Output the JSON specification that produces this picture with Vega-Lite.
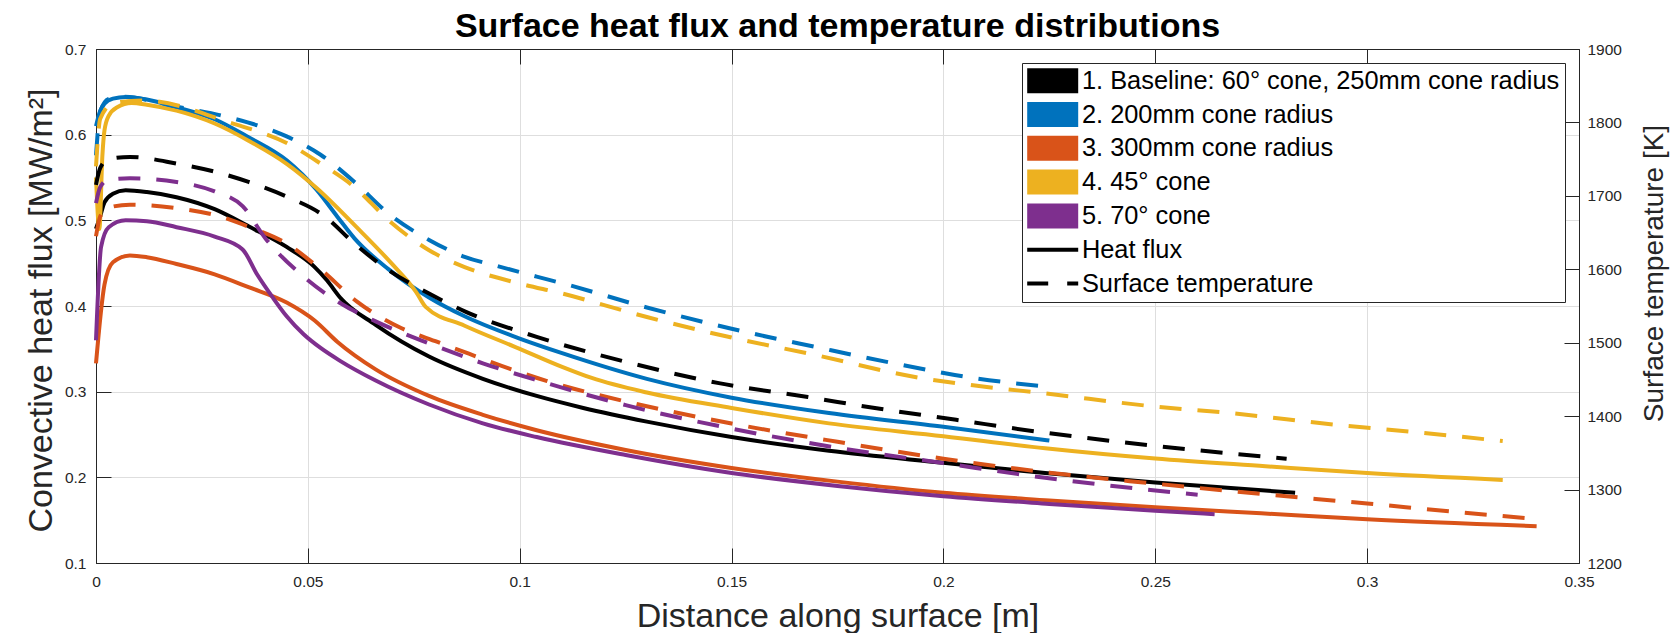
{
  "$schema": "https://vega.github.io/schema/vega-lite/v6.json",
  "width": 1483,
  "height": 514,
  "autosize": {"type": "none"},
  "padding": {"left": 96, "top": 49, "right": 98, "bottom": 70},
  "background": "white",
  "title": {
    "text": "Surface heat flux and temperature distributions",
    "font": "Liberation Sans", "fontSize": 34, "fontWeight": "bold", "color": "#000000",
    "anchor": "middle", "frame": "group", "baseline": "alphabetic", "offset": 14, "dy": 43
  },
  "config": {
    "view": {"stroke": "#262626", "strokeWidth": 1},
    "font": "Liberation Sans",
    "axis": {
      "labelFont": "Liberation Sans", "titleFont": "Liberation Sans",
      "labelColor": "#262626", "titleColor": "#262626",
      "domainColor": "#262626", "tickColor": "#262626",
      "titleFontWeight": "normal", "labelFontSize": 15.5,
      "tickSize": -15, "tickWidth": 1, "domainWidth": 1,
      "gridColor": "#dedede", "gridWidth": 1,
      "labelOverlap": false, "labelFlush": false
    }
  },
  "datasets": {
    "flux": [
      {"c": "1. Baseline: 60° cone, 250mm cone radius", "x": 0, "v": 0.49},
      {"c": "1. Baseline: 60° cone, 250mm cone radius", "x": 0.001, "v": 0.505},
      {"c": "1. Baseline: 60° cone, 250mm cone radius", "x": 0.002, "v": 0.521},
      {"c": "1. Baseline: 60° cone, 250mm cone radius", "x": 0.004, "v": 0.531},
      {"c": "1. Baseline: 60° cone, 250mm cone radius", "x": 0.007, "v": 0.535},
      {"c": "1. Baseline: 60° cone, 250mm cone radius", "x": 0.012, "v": 0.533},
      {"c": "1. Baseline: 60° cone, 250mm cone radius", "x": 0.019, "v": 0.527},
      {"c": "1. Baseline: 60° cone, 250mm cone radius", "x": 0.028, "v": 0.513},
      {"c": "1. Baseline: 60° cone, 250mm cone radius", "x": 0.036, "v": 0.493},
      {"c": "1. Baseline: 60° cone, 250mm cone radius", "x": 0.045, "v": 0.469},
      {"c": "1. Baseline: 60° cone, 250mm cone radius", "x": 0.0515, "v": 0.446},
      {"c": "1. Baseline: 60° cone, 250mm cone radius", "x": 0.0545, "v": 0.43},
      {"c": "1. Baseline: 60° cone, 250mm cone radius", "x": 0.0576, "v": 0.41},
      {"c": "1. Baseline: 60° cone, 250mm cone radius", "x": 0.066, "v": 0.378},
      {"c": "1. Baseline: 60° cone, 250mm cone radius", "x": 0.0786, "v": 0.341},
      {"c": "1. Baseline: 60° cone, 250mm cone radius", "x": 0.0913, "v": 0.315},
      {"c": "1. Baseline: 60° cone, 250mm cone radius", "x": 0.104, "v": 0.295},
      {"c": "1. Baseline: 60° cone, 250mm cone radius", "x": 0.115, "v": 0.281},
      {"c": "1. Baseline: 60° cone, 250mm cone radius", "x": 0.13, "v": 0.265},
      {"c": "1. Baseline: 60° cone, 250mm cone radius", "x": 0.15, "v": 0.247},
      {"c": "1. Baseline: 60° cone, 250mm cone radius", "x": 0.173, "v": 0.231},
      {"c": "1. Baseline: 60° cone, 250mm cone radius", "x": 0.2, "v": 0.217},
      {"c": "1. Baseline: 60° cone, 250mm cone radius", "x": 0.224, "v": 0.205},
      {"c": "1. Baseline: 60° cone, 250mm cone radius", "x": 0.25, "v": 0.194},
      {"c": "1. Baseline: 60° cone, 250mm cone radius", "x": 0.283, "v": 0.182},

      {"c": "2. 200mm cone radius", "x": 0, "v": 0.61},
      {"c": "2. 200mm cone radius", "x": 0.001, "v": 0.628},
      {"c": "2. 200mm cone radius", "x": 0.002, "v": 0.636},
      {"c": "2. 200mm cone radius", "x": 0.004, "v": 0.642},
      {"c": "2. 200mm cone radius", "x": 0.007, "v": 0.644},
      {"c": "2. 200mm cone radius", "x": 0.012, "v": 0.641},
      {"c": "2. 200mm cone radius", "x": 0.019, "v": 0.632},
      {"c": "2. 200mm cone radius", "x": 0.028, "v": 0.618},
      {"c": "2. 200mm cone radius", "x": 0.036, "v": 0.597},
      {"c": "2. 200mm cone radius", "x": 0.045, "v": 0.57},
      {"c": "2. 200mm cone radius", "x": 0.052, "v": 0.536},
      {"c": "2. 200mm cone radius", "x": 0.057, "v": 0.504},
      {"c": "2. 200mm cone radius", "x": 0.061, "v": 0.479},
      {"c": "2. 200mm cone radius", "x": 0.069, "v": 0.443},
      {"c": "2. 200mm cone radius", "x": 0.0786, "v": 0.41},
      {"c": "2. 200mm cone radius", "x": 0.087, "v": 0.388},
      {"c": "2. 200mm cone radius", "x": 0.1, "v": 0.362},
      {"c": "2. 200mm cone radius", "x": 0.11, "v": 0.345},
      {"c": "2. 200mm cone radius", "x": 0.13, "v": 0.315},
      {"c": "2. 200mm cone radius", "x": 0.15, "v": 0.293},
      {"c": "2. 200mm cone radius", "x": 0.173, "v": 0.275},
      {"c": "2. 200mm cone radius", "x": 0.2, "v": 0.259},
      {"c": "2. 200mm cone radius", "x": 0.225, "v": 0.243},

      {"c": "3. 300mm cone radius", "x": 0, "v": 0.333},
      {"c": "3. 300mm cone radius", "x": 0.002, "v": 0.425},
      {"c": "3. 300mm cone radius", "x": 0.004, "v": 0.451},
      {"c": "3. 300mm cone radius", "x": 0.008, "v": 0.459},
      {"c": "3. 300mm cone radius", "x": 0.012, "v": 0.457},
      {"c": "3. 300mm cone radius", "x": 0.019, "v": 0.449},
      {"c": "3. 300mm cone radius", "x": 0.028, "v": 0.437},
      {"c": "3. 300mm cone radius", "x": 0.036, "v": 0.422},
      {"c": "3. 300mm cone radius", "x": 0.045, "v": 0.404},
      {"c": "3. 300mm cone radius", "x": 0.0516, "v": 0.383},
      {"c": "3. 300mm cone radius", "x": 0.057, "v": 0.358},
      {"c": "3. 300mm cone radius", "x": 0.066, "v": 0.326},
      {"c": "3. 300mm cone radius", "x": 0.0786, "v": 0.295},
      {"c": "3. 300mm cone radius", "x": 0.0913, "v": 0.273},
      {"c": "3. 300mm cone radius", "x": 0.104, "v": 0.255},
      {"c": "3. 300mm cone radius", "x": 0.125, "v": 0.232},
      {"c": "3. 300mm cone radius", "x": 0.15, "v": 0.211},
      {"c": "3. 300mm cone radius", "x": 0.175, "v": 0.195},
      {"c": "3. 300mm cone radius", "x": 0.2, "v": 0.182},
      {"c": "3. 300mm cone radius", "x": 0.225, "v": 0.173},
      {"c": "3. 300mm cone radius", "x": 0.25, "v": 0.165},
      {"c": "3. 300mm cone radius", "x": 0.275, "v": 0.158},
      {"c": "3. 300mm cone radius", "x": 0.3, "v": 0.151},
      {"c": "3. 300mm cone radius", "x": 0.34, "v": 0.143},

      {"c": "4. 45° cone", "x": 0, "v": 0.55},
      {"c": "4. 45° cone", "x": 0.0008, "v": 0.49},
      {"c": "4. 45° cone", "x": 0.0015, "v": 0.575},
      {"c": "4. 45° cone", "x": 0.002, "v": 0.605},
      {"c": "4. 45° cone", "x": 0.003, "v": 0.622},
      {"c": "4. 45° cone", "x": 0.005, "v": 0.632},
      {"c": "4. 45° cone", "x": 0.0084, "v": 0.637},
      {"c": "4. 45° cone", "x": 0.012, "v": 0.635},
      {"c": "4. 45° cone", "x": 0.019, "v": 0.628},
      {"c": "4. 45° cone", "x": 0.028, "v": 0.613},
      {"c": "4. 45° cone", "x": 0.036, "v": 0.593},
      {"c": "4. 45° cone", "x": 0.045, "v": 0.566},
      {"c": "4. 45° cone", "x": 0.052, "v": 0.538},
      {"c": "4. 45° cone", "x": 0.0615, "v": 0.492},
      {"c": "4. 45° cone", "x": 0.0697, "v": 0.45},
      {"c": "4. 45° cone", "x": 0.0756, "v": 0.416},
      {"c": "4. 45° cone", "x": 0.0778, "v": 0.399},
      {"c": "4. 45° cone", "x": 0.087, "v": 0.377},
      {"c": "4. 45° cone", "x": 0.1, "v": 0.35},
      {"c": "4. 45° cone", "x": 0.11, "v": 0.329},
      {"c": "4. 45° cone", "x": 0.117, "v": 0.316},
      {"c": "4. 45° cone", "x": 0.13, "v": 0.299},
      {"c": "4. 45° cone", "x": 0.15, "v": 0.281},
      {"c": "4. 45° cone", "x": 0.173, "v": 0.263},
      {"c": "4. 45° cone", "x": 0.2, "v": 0.248},
      {"c": "4. 45° cone", "x": 0.224, "v": 0.234},
      {"c": "4. 45° cone", "x": 0.25, "v": 0.222},
      {"c": "4. 45° cone", "x": 0.276, "v": 0.213},
      {"c": "4. 45° cone", "x": 0.3, "v": 0.205},
      {"c": "4. 45° cone", "x": 0.332, "v": 0.197},

      {"c": "5. 70° cone", "x": 0, "v": 0.36},
      {"c": "5. 70° cone", "x": 0.0012, "v": 0.469},
      {"c": "5. 70° cone", "x": 0.003, "v": 0.492},
      {"c": "5. 70° cone", "x": 0.007, "v": 0.5},
      {"c": "5. 70° cone", "x": 0.012, "v": 0.499},
      {"c": "5. 70° cone", "x": 0.019, "v": 0.492},
      {"c": "5. 70° cone", "x": 0.028, "v": 0.481},
      {"c": "5. 70° cone", "x": 0.0346, "v": 0.466},
      {"c": "5. 70° cone", "x": 0.038, "v": 0.437},
      {"c": "5. 70° cone", "x": 0.0417, "v": 0.41},
      {"c": "5. 70° cone", "x": 0.045, "v": 0.388},
      {"c": "5. 70° cone", "x": 0.049, "v": 0.367},
      {"c": "5. 70° cone", "x": 0.053, "v": 0.351},
      {"c": "5. 70° cone", "x": 0.0576, "v": 0.336},
      {"c": "5. 70° cone", "x": 0.066, "v": 0.313},
      {"c": "5. 70° cone", "x": 0.0786, "v": 0.285},
      {"c": "5. 70° cone", "x": 0.0913, "v": 0.263},
      {"c": "5. 70° cone", "x": 0.104, "v": 0.247},
      {"c": "5. 70° cone", "x": 0.125, "v": 0.226},
      {"c": "5. 70° cone", "x": 0.15, "v": 0.205},
      {"c": "5. 70° cone", "x": 0.175, "v": 0.19},
      {"c": "5. 70° cone", "x": 0.2, "v": 0.178},
      {"c": "5. 70° cone", "x": 0.225, "v": 0.169},
      {"c": "5. 70° cone", "x": 0.25, "v": 0.161},
      {"c": "5. 70° cone", "x": 0.264, "v": 0.157}
    ],
    "temp": [
      {"c": "1. Baseline: 60° cone, 250mm cone radius", "x": 0, "v": 1715},
      {"c": "1. Baseline: 60° cone, 250mm cone radius", "x": 0.001, "v": 1738},
      {"c": "1. Baseline: 60° cone, 250mm cone radius", "x": 0.003, "v": 1750},
      {"c": "1. Baseline: 60° cone, 250mm cone radius", "x": 0.008, "v": 1753},
      {"c": "1. Baseline: 60° cone, 250mm cone radius", "x": 0.019, "v": 1744},
      {"c": "1. Baseline: 60° cone, 250mm cone radius", "x": 0.028, "v": 1733},
      {"c": "1. Baseline: 60° cone, 250mm cone radius", "x": 0.036, "v": 1719},
      {"c": "1. Baseline: 60° cone, 250mm cone radius", "x": 0.045, "v": 1699},
      {"c": "1. Baseline: 60° cone, 250mm cone radius", "x": 0.054, "v": 1672},
      {"c": "1. Baseline: 60° cone, 250mm cone radius", "x": 0.061, "v": 1635},
      {"c": "1. Baseline: 60° cone, 250mm cone radius", "x": 0.069, "v": 1599},
      {"c": "1. Baseline: 60° cone, 250mm cone radius", "x": 0.0786, "v": 1567},
      {"c": "1. Baseline: 60° cone, 250mm cone radius", "x": 0.0873, "v": 1542},
      {"c": "1. Baseline: 60° cone, 250mm cone radius", "x": 0.104, "v": 1508},
      {"c": "1. Baseline: 60° cone, 250mm cone radius", "x": 0.125, "v": 1474},
      {"c": "1. Baseline: 60° cone, 250mm cone radius", "x": 0.147, "v": 1445},
      {"c": "1. Baseline: 60° cone, 250mm cone radius", "x": 0.168, "v": 1426},
      {"c": "1. Baseline: 60° cone, 250mm cone radius", "x": 0.185, "v": 1410},
      {"c": "1. Baseline: 60° cone, 250mm cone radius", "x": 0.203, "v": 1395},
      {"c": "1. Baseline: 60° cone, 250mm cone radius", "x": 0.222, "v": 1379},
      {"c": "1. Baseline: 60° cone, 250mm cone radius", "x": 0.24, "v": 1366},
      {"c": "1. Baseline: 60° cone, 250mm cone radius", "x": 0.268, "v": 1349},
      {"c": "1. Baseline: 60° cone, 250mm cone radius", "x": 0.281, "v": 1342},

      {"c": "2. 200mm cone radius", "x": 0, "v": 1755},
      {"c": "2. 200mm cone radius", "x": 0.001, "v": 1815},
      {"c": "2. 200mm cone radius", "x": 0.003, "v": 1832},
      {"c": "2. 200mm cone radius", "x": 0.006, "v": 1835},
      {"c": "2. 200mm cone radius", "x": 0.0194, "v": 1821},
      {"c": "2. 200mm cone radius", "x": 0.032, "v": 1806},
      {"c": "2. 200mm cone radius", "x": 0.045, "v": 1781},
      {"c": "2. 200mm cone radius", "x": 0.053, "v": 1756},
      {"c": "2. 200mm cone radius", "x": 0.061, "v": 1719},
      {"c": "2. 200mm cone radius", "x": 0.069, "v": 1676},
      {"c": "2. 200mm cone radius", "x": 0.0786, "v": 1640},
      {"c": "2. 200mm cone radius", "x": 0.087, "v": 1617},
      {"c": "2. 200mm cone radius", "x": 0.095, "v": 1604},
      {"c": "2. 200mm cone radius", "x": 0.104, "v": 1590},
      {"c": "2. 200mm cone radius", "x": 0.11, "v": 1581},
      {"c": "2. 200mm cone radius", "x": 0.13, "v": 1548},
      {"c": "2. 200mm cone radius", "x": 0.15, "v": 1519},
      {"c": "2. 200mm cone radius", "x": 0.17, "v": 1494},
      {"c": "2. 200mm cone radius", "x": 0.19, "v": 1470},
      {"c": "2. 200mm cone radius", "x": 0.207, "v": 1452},
      {"c": "2. 200mm cone radius", "x": 0.225, "v": 1440},

      {"c": "3. 300mm cone radius", "x": 0, "v": 1645},
      {"c": "3. 300mm cone radius", "x": 0.001, "v": 1672},
      {"c": "3. 300mm cone radius", "x": 0.003, "v": 1684},
      {"c": "3. 300mm cone radius", "x": 0.008, "v": 1688},
      {"c": "3. 300mm cone radius", "x": 0.0194, "v": 1683},
      {"c": "3. 300mm cone radius", "x": 0.028, "v": 1674},
      {"c": "3. 300mm cone radius", "x": 0.036, "v": 1658},
      {"c": "3. 300mm cone radius", "x": 0.045, "v": 1635},
      {"c": "3. 300mm cone radius", "x": 0.053, "v": 1600},
      {"c": "3. 300mm cone radius", "x": 0.0616, "v": 1556},
      {"c": "3. 300mm cone radius", "x": 0.072, "v": 1520},
      {"c": "3. 300mm cone radius", "x": 0.0806, "v": 1501},
      {"c": "3. 300mm cone radius", "x": 0.088, "v": 1485},
      {"c": "3. 300mm cone radius", "x": 0.0974, "v": 1465},
      {"c": "3. 300mm cone radius", "x": 0.1063, "v": 1448},
      {"c": "3. 300mm cone radius", "x": 0.125, "v": 1420},
      {"c": "3. 300mm cone radius", "x": 0.15, "v": 1390},
      {"c": "3. 300mm cone radius", "x": 0.175, "v": 1365},
      {"c": "3. 300mm cone radius", "x": 0.2, "v": 1342},
      {"c": "3. 300mm cone radius", "x": 0.225, "v": 1323},
      {"c": "3. 300mm cone radius", "x": 0.25, "v": 1308},
      {"c": "3. 300mm cone radius", "x": 0.275, "v": 1294},
      {"c": "3. 300mm cone radius", "x": 0.3, "v": 1281},
      {"c": "3. 300mm cone radius", "x": 0.32, "v": 1270},
      {"c": "3. 300mm cone radius", "x": 0.34, "v": 1260},

      {"c": "4. 45° cone", "x": 0, "v": 1740},
      {"c": "4. 45° cone", "x": 0.001, "v": 1805},
      {"c": "4. 45° cone", "x": 0.004, "v": 1826},
      {"c": "4. 45° cone", "x": 0.0111, "v": 1830},
      {"c": "4. 45° cone", "x": 0.032, "v": 1799},
      {"c": "4. 45° cone", "x": 0.045, "v": 1772},
      {"c": "4. 45° cone", "x": 0.053, "v": 1744},
      {"c": "4. 45° cone", "x": 0.061, "v": 1712},
      {"c": "4. 45° cone", "x": 0.069, "v": 1667},
      {"c": "4. 45° cone", "x": 0.0786, "v": 1626},
      {"c": "4. 45° cone", "x": 0.087, "v": 1603},
      {"c": "4. 45° cone", "x": 0.0997, "v": 1581},
      {"c": "4. 45° cone", "x": 0.11, "v": 1567},
      {"c": "4. 45° cone", "x": 0.13, "v": 1535},
      {"c": "4. 45° cone", "x": 0.15, "v": 1507},
      {"c": "4. 45° cone", "x": 0.17, "v": 1483},
      {"c": "4. 45° cone", "x": 0.1936, "v": 1453},
      {"c": "4. 45° cone", "x": 0.207, "v": 1442},
      {"c": "4. 45° cone", "x": 0.224, "v": 1431},
      {"c": "4. 45° cone", "x": 0.25, "v": 1413},
      {"c": "4. 45° cone", "x": 0.268, "v": 1404},
      {"c": "4. 45° cone", "x": 0.293, "v": 1388},
      {"c": "4. 45° cone", "x": 0.31, "v": 1379},
      {"c": "4. 45° cone", "x": 0.332, "v": 1366},

      {"c": "5. 70° cone", "x": 0, "v": 1690},
      {"c": "5. 70° cone", "x": 0.001, "v": 1712},
      {"c": "5. 70° cone", "x": 0.003, "v": 1722},
      {"c": "5. 70° cone", "x": 0.008, "v": 1724},
      {"c": "5. 70° cone", "x": 0.019, "v": 1719},
      {"c": "5. 70° cone", "x": 0.028, "v": 1706},
      {"c": "5. 70° cone", "x": 0.0346, "v": 1686},
      {"c": "5. 70° cone", "x": 0.04, "v": 1642},
      {"c": "5. 70° cone", "x": 0.049, "v": 1590},
      {"c": "5. 70° cone", "x": 0.0576, "v": 1554},
      {"c": "5. 70° cone", "x": 0.066, "v": 1529},
      {"c": "5. 70° cone", "x": 0.0786, "v": 1499},
      {"c": "5. 70° cone", "x": 0.0913, "v": 1472},
      {"c": "5. 70° cone", "x": 0.104, "v": 1449},
      {"c": "5. 70° cone", "x": 0.125, "v": 1415},
      {"c": "5. 70° cone", "x": 0.15, "v": 1383},
      {"c": "5. 70° cone", "x": 0.175, "v": 1357},
      {"c": "5. 70° cone", "x": 0.2, "v": 1336},
      {"c": "5. 70° cone", "x": 0.224, "v": 1316},
      {"c": "5. 70° cone", "x": 0.26, "v": 1293}
    ]
  },
  "layer": [
    {
      "data": {"name": "flux"},
      "mark": {"type": "line", "strokeWidth": 4, "interpolate": "monotone", "strokeCap": "butt"},
      "encoding": {
        "x": {
          "field": "x", "type": "quantitative",
          "scale": {"domain": [0, 0.35], "nice": false, "zero": false},
          "axis": {
            "orient": "bottom",
            "values": [0, 0.05, 0.1, 0.15, 0.2, 0.25, 0.3, 0.35],
            "format": "~g", "grid": true, "labelPadding": 26,
            "title": "Distance along surface [m]", "titleFontSize": 34,
            "titleBaseline": "alphabetic", "titleX": 741.5, "titleY": 63, "titleAlign": "center"
          }
        },
        "y": {
          "field": "v", "type": "quantitative",
          "scale": {"domain": [0.1, 0.7], "nice": false, "zero": false},
          "axis": {
            "orient": "left",
            "values": [0.1, 0.2, 0.3, 0.4, 0.5, 0.6, 0.7],
            "format": "~g", "grid": true, "labelPadding": 25,
            "title": "Convective heat flux [MW/m²]", "titleFontSize": 34,
            "titleAngle": 270, "titleBaseline": "alphabetic", "titleAlign": "center",
            "titleX": -45, "titleY": 261
          }
        },
        "color": {
          "field": "c", "type": "nominal",
          "scale": {
            "domain": ["1. Baseline: 60° cone, 250mm cone radius", "2. 200mm cone radius", "3. 300mm cone radius", "4. 45° cone", "5. 70° cone", "Heat flux", "Surface temperature"],
            "range": ["#000000", "#0072BD", "#D95319", "#EDB120", "#7E2F8E", "#000000", "#000000"]
          },
          "legend": {
            "title": null, "orient": "none", "legendX": 926, "legendY": 14,
            "padding": 5, "fillColor": "white", "strokeColor": "#262626",
            "labelFont": "Liberation Sans", "labelFontSize": 25.4, "labelColor": "#000000",
            "labelLimit": 1000, "labelOffset": 29.5, "rowPadding": 6.8,
            "symbolSize": 625, "symbolType": "M-1,-1H3.08V1H-1Z", "symbolStrokeWidth": 0,
            "encode": {
              "symbols": {
                "update": {
                  "shape": {"signal": "(datum.value === 'Heat flux' || datum.value === 'Surface temperature') ? 'M-1,0H3.08' : 'M-1,-1H3.08V1H-1Z'"},
                  "fill": {"signal": "(datum.value === 'Heat flux' || datum.value === 'Surface temperature') ? 'transparent' : scale('color', datum.value)"},
                  "stroke": {"signal": "(datum.value === 'Heat flux' || datum.value === 'Surface temperature') ? '#000000' : scale('color', datum.value)"},
                  "strokeWidth": {"signal": "(datum.value === 'Heat flux' || datum.value === 'Surface temperature') ? 4 : 0"},
                  "strokeDash": {"signal": "datum.value === 'Surface temperature' ? [21, 19] : [1000, 0]"},
                  "opacity": {"value": 1}
                }
              }
            }
          }
        }
      }
    },
    {
      "data": {"name": "temp"},
      "mark": {"type": "line", "strokeWidth": 4, "interpolate": "monotone", "strokeDash": [22, 16], "strokeCap": "butt"},
      "encoding": {
        "x": {
          "field": "x", "type": "quantitative",
          "scale": {"domain": [0, 0.35], "nice": false, "zero": false},
          "axis": {
            "orient": "top",
            "values": [0, 0.05, 0.1, 0.15, 0.2, 0.25, 0.3, 0.35],
            "labels": false, "grid": false, "title": null
          }
        },
        "y": {
          "field": "v", "type": "quantitative",
          "scale": {"domain": [1200, 1900], "nice": false, "zero": false},
          "axis": {
            "orient": "right",
            "values": [1200, 1300, 1400, 1500, 1600, 1700, 1800, 1900],
            "format": "d", "grid": false, "labelPadding": 23,
            "title": "Surface temperature [K]", "titleFontSize": 28,
            "titleAngle": 270, "titleBaseline": "alphabetic", "titleAlign": "center",
            "titleX": 83, "titleY": 224
          }
        },
        "color": {"field": "c", "type": "nominal"}
      }
    }
  ],
  "resolve": {
    "scale": {"y": "independent"},
    "axis": {"x": "independent", "y": "independent"}
  }
}
